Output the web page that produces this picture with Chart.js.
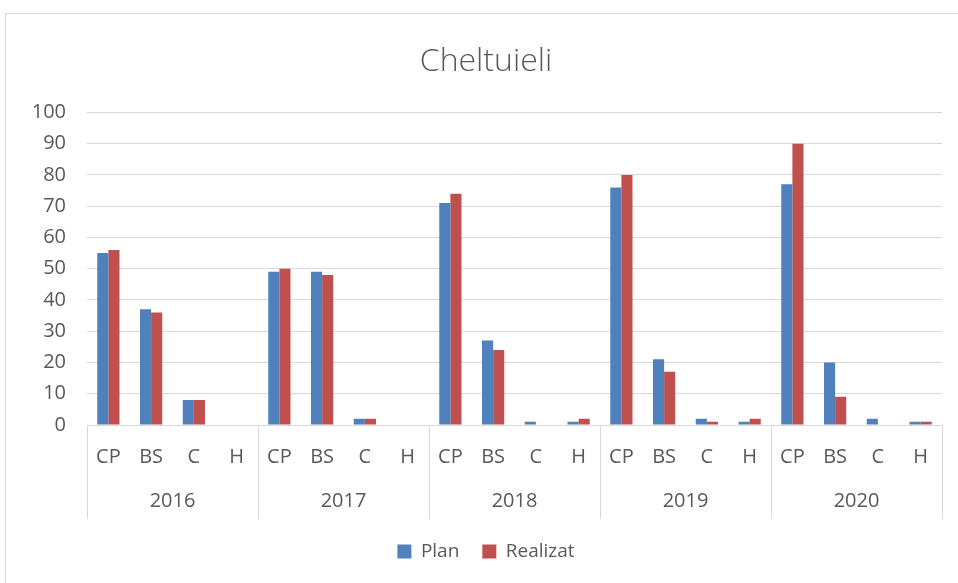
<!DOCTYPE html>
<html>
<head>
<meta charset="utf-8">
<script src="https://cdn.jsdelivr.net/npm/chart.js@4"></script>
<style>
  body { margin: 0; background: #fff; overflow: hidden; }
  #box { position: absolute; left: 5px; top: 13px; width: 960px; height: 575px; border: 1px solid #d9d9d9; }
</style>
</head>
<body>
<div id="box"><canvas id="chart" width="960" height="575"></canvas></div>
<script>
// categories
const years = ["2016", "2017", "2018", "2019", "2020"];
const types = ["CP", "BS", "C", "H"];
// series values, 4 per year (CP, BS, C, H)
const plan =     [55, 37, 8, 0,  49, 49, 2, 0,  71, 27, 1, 1,  76, 21, 2, 1,  77, 20, 2, 1];
const realizat = [56, 36, 8, 0,  50, 48, 2, 0,  74, 24, 0, 2,  80, 17, 1, 2,  90, 9, 0, 1];
const yTicks = [0, 10, 20, 30, 40, 50, 60, 70, 80, 90, 100];

const labels = [];
years.forEach(y => types.forEach(t => labels.push(t)));

const txt = "#595959";
const font = "'Open Sans', sans-serif";

// year row + separators under the category axis
const yearAxis = {
  id: 'yearAxis',
  afterDraw(chart) {
    const ctx = chart.ctx, x = chart.scales.x, area = chart.chartArea;
    const step = x.getPixelForValue(1) - x.getPixelForValue(0);
    ctx.save();
    ctx.strokeStyle = "#d9d9d9";
    ctx.lineWidth = 1;
    for (let g = 0; g <= years.length; g++) {
      const px = Math.round(x.getPixelForValue(g * types.length) - step / 2) + 0.5;
      ctx.beginPath();
      ctx.moveTo(px, area.bottom);
      ctx.lineTo(px, area.bottom + 94);
      ctx.stroke();
    }
    ctx.fillStyle = txt;
    ctx.font = "20px " + font;
    ctx.textAlign = "center";
    ctx.textBaseline = "middle";
    years.forEach((y, g) => {
      const a = x.getPixelForValue(g * types.length);
      const b = x.getPixelForValue(g * types.length + types.length - 1);
      ctx.fillText(y, (a + b) / 2, area.bottom + 76);
    });
    ctx.restore();
  }
};

new Chart(document.getElementById("chart"), {
  type: 'bar',
  data: {
    labels: labels,
    datasets: [{
        label: "Plan",
        data: plan,
        backgroundColor: "#4F81BD",
        borderWidth: 0
      }, {
        label: "Realizat",
        data: realizat,
        backgroundColor: "#C0504D",
        borderWidth: 0
      }
    ]
  },
  options: {
    responsive: false,
    animation: false,
    layout: { padding: { left: 24, right: 24, top: 0, bottom: 18 } },
    datasets: { bar: { barPercentage: 1, categoryPercentage: 0.52 } },
    plugins: {
      title: {
        display: true,
        text: 'Cheltuieli',
        color: txt,
        font: { family: font, size: 32, weight: 300 },
        padding: { top: 29, bottom: 31 }
      },
      legend: {
        position: 'bottom',
        labels: {
          color: txt,
          font: { family: font, size: 19 },
          boxWidth: 14,
          boxHeight: 14,
          padding: 23
        }
      },
      tooltip: { enabled: false }
    },
    scales: {
      x: {
        grid: { display: false },
        border: { display: false },
        ticks: { color: txt, font: { family: font, size: 20 }, padding: 12, maxRotation: 0, autoSkip: false },
        afterFit(scale) { scale.height = 94; }
      },
      y: {
        min: 0,
        max: 100,
        afterBuildTicks(scale) { scale.ticks = yTicks.map(v => ({ value: v })); },
        grid: { color: "#d9d9d9", drawTicks: false },
        border: { display: false },
        ticks: { color: txt, font: { family: font, size: 20 }, padding: 21 },
        afterFit(scale) { scale.width = 57; }
      }
    }
  },
  plugins: [yearAxis]
});
</script>
</body>
</html>
